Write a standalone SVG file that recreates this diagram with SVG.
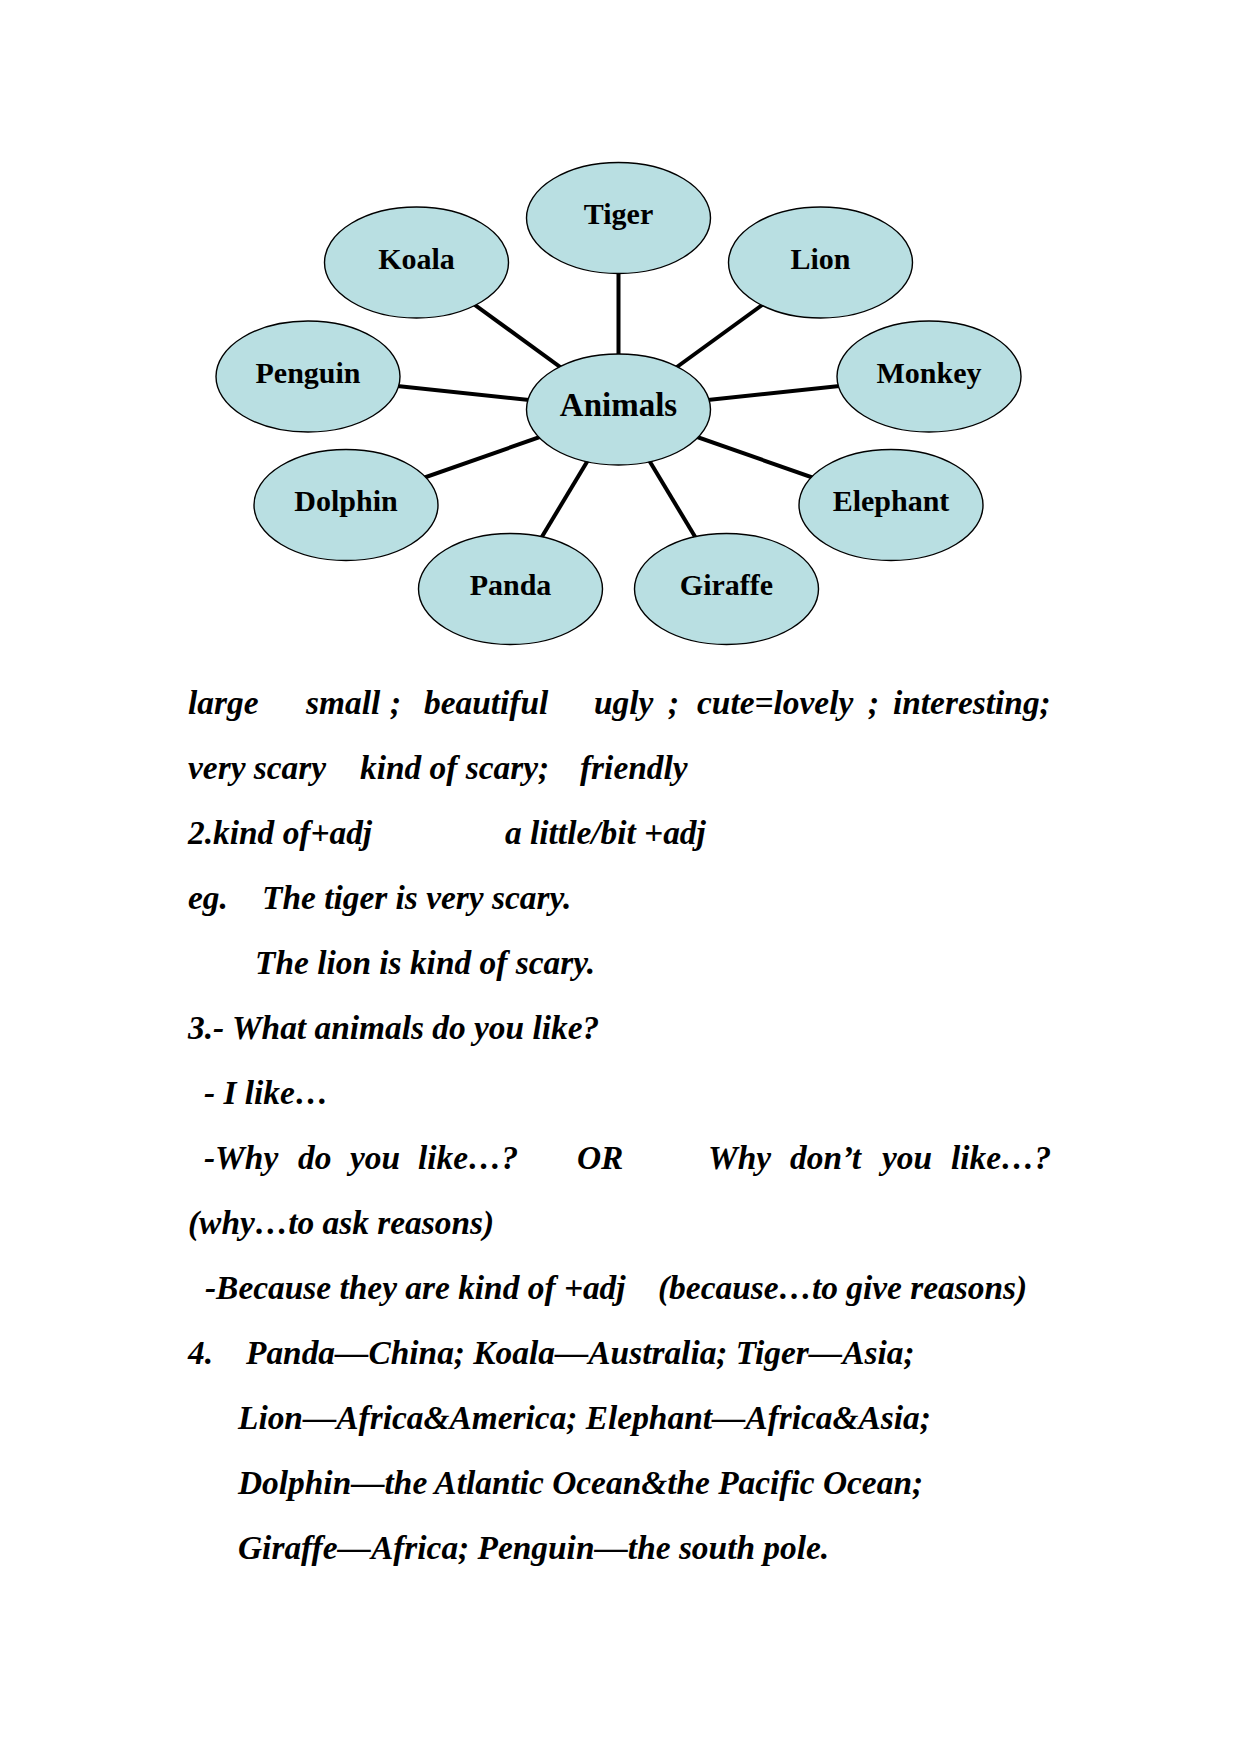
<svg xmlns="http://www.w3.org/2000/svg" width="1241" height="1754" viewBox="0 0 1241 1754">
<style>
  .node ellipse { fill: #B9DFE2; stroke: #000; stroke-width: 1.4; }
  .node text { font-family: "Liberation Serif", "Times New Roman", serif; font-weight: bold; font-size: 30px; text-anchor: middle; fill: #000; }
  #n-animals text { font-size: 33px; }
  #connectors line { stroke: #000; stroke-width: 4; }
  .body { font-family: "Liberation Serif", "Times New Roman", serif; font-weight: bold; font-style: italic; font-size: 33.4px; fill: #000; }
</style>
<rect width="1241" height="1754" fill="#fff"/>
<g id="connectors">
  <line x1="618.5" y1="409.5" x2="618.5" y2="218"/>
  <line x1="618.5" y1="409.5" x2="416.5" y2="262.5"/>
  <line x1="618.5" y1="409.5" x2="820.5" y2="262.5"/>
  <line x1="618.5" y1="409.5" x2="308" y2="376.5"/>
  <line x1="618.5" y1="409.5" x2="929" y2="376.5"/>
  <line x1="618.5" y1="409.5" x2="346" y2="505"/>
  <line x1="618.5" y1="409.5" x2="891" y2="505"/>
  <line x1="618.5" y1="409.5" x2="510.5" y2="589"/>
  <line x1="618.5" y1="409.5" x2="726.5" y2="589"/>
</g>
<g id="n-tiger" class="node"><ellipse cx="618.5" cy="218" rx="92" ry="55.5"/><text x="618.5" y="224">Tiger</text></g>
<g id="n-koala" class="node"><ellipse cx="416.5" cy="262.5" rx="92" ry="55.5"/><text x="416.5" y="268.5">Koala</text></g>
<g id="n-lion" class="node"><ellipse cx="820.5" cy="262.5" rx="92" ry="55.5"/><text x="820.5" y="268.5">Lion</text></g>
<g id="n-penguin" class="node"><ellipse cx="308" cy="376.5" rx="92" ry="55.5"/><text x="308" y="382.5">Penguin</text></g>
<g id="n-monkey" class="node"><ellipse cx="929" cy="376.5" rx="92" ry="55.5"/><text x="929" y="382.5">Monkey</text></g>
<g id="n-animals" class="node"><ellipse cx="618.5" cy="409.5" rx="92" ry="55.5"/><text x="618.5" y="416">Animals</text></g>
<g id="n-dolphin" class="node"><ellipse cx="346" cy="505" rx="92" ry="55.5"/><text x="346" y="511">Dolphin</text></g>
<g id="n-elephant" class="node"><ellipse cx="891" cy="505" rx="92" ry="55.5"/><text x="891" y="511">Elephant</text></g>
<g id="n-panda" class="node"><ellipse cx="510.5" cy="589" rx="92" ry="55.5"/><text x="510.5" y="595">Panda</text></g>
<g id="n-giraffe" class="node"><ellipse cx="726.5" cy="589" rx="92" ry="55.5"/><text x="726.5" y="595">Giraffe</text></g>

<g id="notes" class="body">
  <text x="188" y="714">large</text>
  <text x="306" y="714">small</text>
  <text x="390" y="714">;</text>
  <text x="424" y="714">beautiful</text>
  <text x="594" y="714">ugly</text>
  <text x="668" y="714">;</text>
  <text x="697" y="714">cute=lovely</text>
  <text x="868" y="714">;</text>
  <text x="893" y="714">interesting;</text>

  <text x="188" y="779">very scary</text>
  <text x="360" y="779">kind of scary;</text>
  <text x="580" y="779">friendly</text>

  <text x="188" y="844">2.kind of+adj</text>
  <text x="505" y="844">a little/bit +adj</text>

  <text x="188" y="909">eg.</text>
  <text x="262" y="909">The tiger is very scary.</text>

  <text x="255" y="974">The lion is kind of scary.</text>

  <text x="188" y="1039">3.- What animals do you like?</text>

  <text x="204" y="1104">- I like…</text>

  <text x="204" y="1169">-Why</text>
  <text x="298" y="1169">do</text>
  <text x="350" y="1169">you</text>
  <text x="418" y="1169">like…?</text>
  <text x="577" y="1169">OR</text>
  <text x="708" y="1169">Why</text>
  <text x="790" y="1169">don’t</text>
  <text x="882" y="1169">you</text>
  <text x="951" y="1169">like…?</text>

  <text x="188" y="1234">(why…to ask reasons)</text>

  <text x="205" y="1299">-Because they are kind of +adj</text>
  <text x="658" y="1299">(because…to give reasons)</text>

  <text x="188" y="1364">4.</text>
  <text x="246" y="1364">Panda—China; Koala—Australia; Tiger—Asia;</text>
  <text x="238" y="1429">Lion—Africa&amp;America; Elephant—Africa&amp;Asia;</text>
  <text x="238" y="1494">Dolphin—the Atlantic Ocean&amp;the Pacific Ocean;</text>
  <text x="238" y="1559">Giraffe—Africa; Penguin—the south pole.</text>
</g>
</svg>
